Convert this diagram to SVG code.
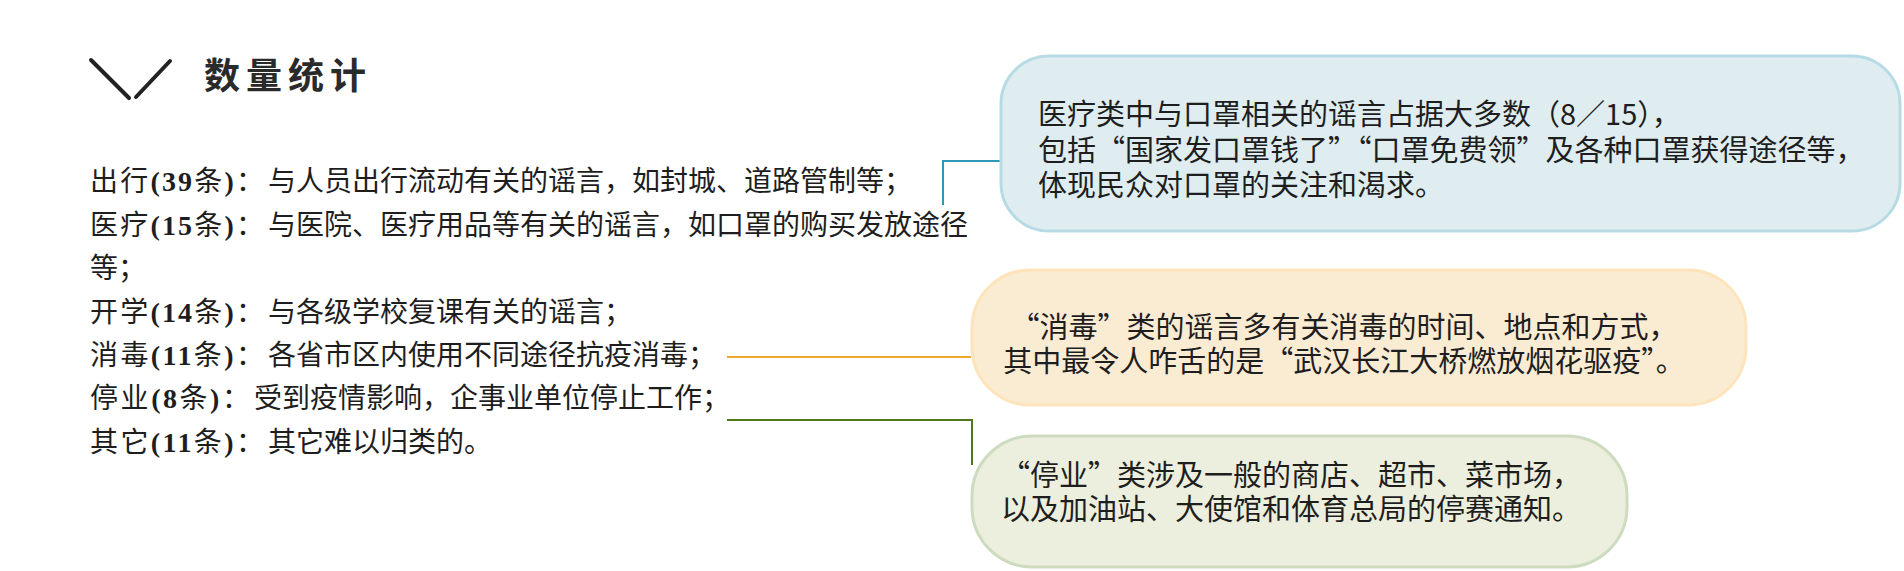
<svg xmlns="http://www.w3.org/2000/svg" width="1904" height="571" viewBox="0 0 1904 571">
<style>
.body{font-family:"Noto Sans CJK SC","Liberation Serif",sans-serif;font-size:28px;fill:#1e1e1e}
.num{font-family:"Liberation Serif",serif;font-weight:bold}
.box{font-family:"Noto Sans CJK SC",sans-serif;font-size:29px;fill:#1e1e1e}
.title{font-family:"Noto Sans CJK SC",sans-serif;font-size:36px;font-weight:bold;fill:#2a2a2a;letter-spacing:6px}
.conn{fill:none;stroke-width:2}
</style>
<rect width="1904" height="571" fill="#ffffff"/>
<g id="title">
<path d="M91 60 L129 98 M136 97 L170 61" stroke="#222" stroke-width="4" stroke-linecap="round" fill="none"/>
<text class="title" x="204" y="89">数量统计</text>
</g>
<g id="list">
<text class="body" x="90" y="191" textLength="174" lengthAdjust="spacing">出行<tspan class="num">(39</tspan>条<tspan class="num">)</tspan>：</text>
<text class="body" x="268" y="191">与人员出行流动有关的谣言，如封城、道路管制等；</text>
<text class="body" x="90" y="235" textLength="174" lengthAdjust="spacing">医疗<tspan class="num">(15</tspan>条<tspan class="num">)</tspan>：</text>
<text class="body" x="268" y="235">与医院、医疗用品等有关的谣言，如口罩的购买发放途径</text>
<text class="body" x="90" y="278">等；</text>
<text class="body" x="90" y="322" textLength="174" lengthAdjust="spacing">开学<tspan class="num">(14</tspan>条<tspan class="num">)</tspan>：</text>
<text class="body" x="268" y="322">与各级学校复课有关的谣言；</text>
<text class="body" x="90" y="365" textLength="174" lengthAdjust="spacing">消毒<tspan class="num">(11</tspan>条<tspan class="num">)</tspan>：</text>
<text class="body" x="268" y="365">各省市区内使用不同途径抗疫消毒；</text>
<text class="body" x="90" y="408" textLength="160" lengthAdjust="spacing">停业<tspan class="num">(8</tspan>条<tspan class="num">)</tspan>：</text>
<text class="body" x="254" y="408">受到疫情影响，企事业单位停止工作；</text>
<text class="body" x="90" y="452" textLength="174" lengthAdjust="spacing">其它<tspan class="num">(11</tspan>条<tspan class="num">)</tspan>：</text>
<text class="body" x="268" y="452">其它难以归类的。</text>
</g>
<g id="connectors">
<path class="conn" d="M943 205 V161 H1000" stroke="#2e98b6"/>
<path class="conn" d="M727 357 H971" stroke="#f0a82c"/>
<path class="conn" d="M727 420 H972 V465" stroke="#4f7a1c"/>
</g>
<g id="node-mask">
<rect x="1001" y="56" width="899" height="175" rx="48" fill="#dfedf0" stroke="#b7dbe5" stroke-width="3"/>
<text class="box" x="1038" y="125">医疗类中与口罩相关的谣言占据大多数（8／15），</text>
<text class="box" x="1038" y="161">包括“国家发口罩钱了”“口罩免费领”及各种口罩获得途径等，</text>
<text class="box" x="1038" y="196">体现民众对口罩的关注和渴求。</text>
</g>
<g id="node-disinfect">
<rect x="972" y="270" width="774" height="135" rx="58" fill="#faebd3" stroke="#fde4bb" stroke-width="3"/>
<text class="box" x="1344" y="338" text-anchor="middle">“消毒”类的谣言多有关消毒的时间、地点和方式，</text>
<text class="box" x="1344" y="372" text-anchor="middle">其中最令人咋舌的是“武汉长江大桥燃放烟花驱疫”。</text>
</g>
<g id="node-closure">
<rect x="972" y="436" width="655" height="131" rx="60" fill="#ecefdd" stroke="#cddbbf" stroke-width="3"/>
<text class="box" x="1291" y="486" text-anchor="middle">“停业”类涉及一般的商店、超市、菜市场，</text>
<text class="box" x="1291" y="520" text-anchor="middle">以及加油站、大使馆和体育总局的停赛通知。</text>
</g>
</svg>
